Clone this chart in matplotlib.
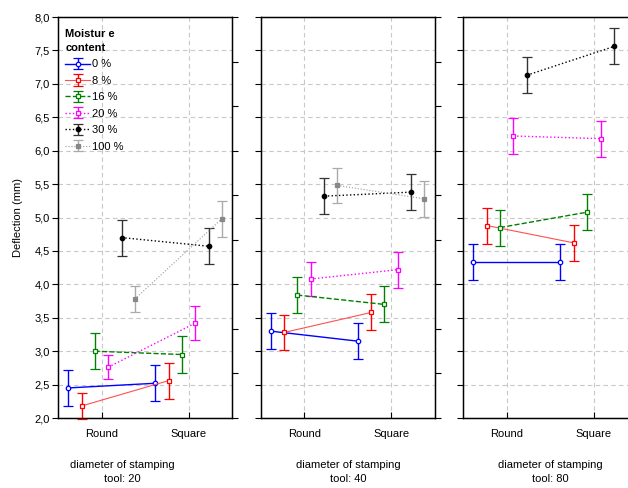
import numpy as np
import matplotlib
matplotlib.use("Agg")
import matplotlib.pyplot as plt
from matplotlib.ticker import FuncFormatter

plt.rcParams['font.family'] = ['Liberation Sans', 'DejaVu Sans']
plt.rcParams['font.size'] = 8

# Datos
series = ['0 %', '8 %', '16 %', '20 %', '30 %', '100 %']
shapes = ['Round', 'Square']
tools = [20, 40, 80]

# medias [Round, Square] por serie
mean_t20 = [[2.45, 2.52], [2.18, 2.56], [3.00, 2.95], [2.76, 3.42], [4.70, 4.57], [3.78, 4.98]]
mean_t40 = [[3.30, 3.15], [3.28, 3.58], [3.84, 3.70], [4.08, 4.22], [5.32, 5.38], [5.48, 5.28]]
mean_t80 = [[4.33, 4.33], [4.88, 4.62], [4.85, 5.08], [6.22, 6.18], [7.13, 7.56], [np.nan, np.nan]]

# semiancho de las barras de error
err_t20 = [[0.27, 0.27], [0.19, 0.27], [0.27, 0.27], [0.18, 0.26], [0.27, 0.27], [0.19, 0.27]]
err_t40 = [[0.27, 0.27], [0.26, 0.27], [0.27, 0.27], [0.26, 0.27], [0.27, 0.27], [0.26, 0.27]]
err_t80 = [[0.27, 0.27], [0.27, 0.27], [0.27, 0.27], [0.27, 0.27], [0.27, 0.27], [np.nan, np.nan]]

means = [mean_t20, mean_t40, mean_t80]
errs = [err_t20, err_t40, err_t80]

# estilos
offsets = [-0.385, -0.23, -0.08, 0.075, 0.23, 0.38]
line_colors = ['#0000ff', '#ff5050', '#008000', '#ff00ff', '#000000', '#999999']
bar_colors = ['#0000ff', '#ff0000', '#008000', '#ff00ff', '#333333', '#aaaaaa']
markers = ['o', 's', 's', 's', 'o', 's']
face = ['white', 'white', 'white', 'white', '#000000', '#888888']
mec = ['#0000ff', '#ff0000', '#008000', '#ff00ff', '#000000', '#888888']
styles = ['-', '-', '--', ':', ':', ':']
widths = [1.0, 0.8, 1.0, 1.0, 1.0, 0.8]

fig = plt.figure(figsize=(6.28, 4.88), dpi=100)
lefts = [0.0924, 0.415, 0.7378]
axes = []
for i in range(3):
    ax = fig.add_axes([lefts[i], 0.1434, 0.2775, 0.8217])
    axes.append(ax)
    x = np.arange(len(shapes))
    handles = []
    for j in range(len(series)):
        h = ax.errorbar(x + offsets[j], means[i][j], yerr=errs[i][j],
                        color=line_colors[j], ecolor=bar_colors[j], linestyle=styles[j],
                        linewidth=widths[j], elinewidth=1.0, capsize=3.6, capthick=1.0,
                        marker=markers[j], markersize=3.2, markerfacecolor=face[j],
                        markeredgecolor=mec[j], markeredgewidth=0.9,
                        label=series[j], clip_on=False, zorder=3)
        handles.append(h)
    ax.set_xlim(-0.5, 1.5)
    ax.set_ylim(2.0, 8.0)
    ax.set_xticks(x)
    ax.set_xticklabels(shapes)
    ax.set_yticks(np.arange(2.0, 8.01, 0.5))
    ax.grid(True, color='#c8c8c8', linestyle=(0, (4, 3)), linewidth=0.8)
    ax.set_axisbelow(True)
    ax.tick_params(axis='x', direction='in', length=4, pad=8)
    ax.tick_params(axis='y', direction='out', length=4, pad=2)
    if i == 0:
        ax.yaxis.set_major_formatter(FuncFormatter(lambda v, p: ('%.1f' % v).replace('.', ',')))
    else:
        ax.set_yticklabels([])
    ax2 = ax.twinx()
    ax2.set_ylim(2.0, 8.0)
    ax2.set_yticks(np.linspace(2.0, 8.0, 10))
    ax2.set_yticklabels([])
    ax2.tick_params(axis='y', direction='out', length=4)
    for s in ax.spines.values():
        s.set_linewidth(1.0)

    if i == 0:
        leg = axes[0].legend(handles=handles, title='Moistur e\ncontent', loc='upper left',
                             bbox_to_anchor=(0.01, 0.985), frameon=False, fontsize=8,
                             title_fontproperties={'weight': 'bold', 'size': 8},
                             alignment='left', handlelength=2.2, handletextpad=0.2,
                             labelspacing=0.58, borderpad=0.0)
        leg.get_title().set_linespacing(1.55)

fig.text(0.029, 0.555, 'Deflection (mm)', rotation=90, ha='center', va='center')

label_x = [122 / 628, 348 / 628, 550 / 628]
for i in range(3):
    fig.text(label_x[i], 1 - 460 / 488, 'diameter of stamping\ntool: %d' % tools[i],
             ha='center', va='top', linespacing=1.5)

fig.savefig('out.png', dpi=100)
